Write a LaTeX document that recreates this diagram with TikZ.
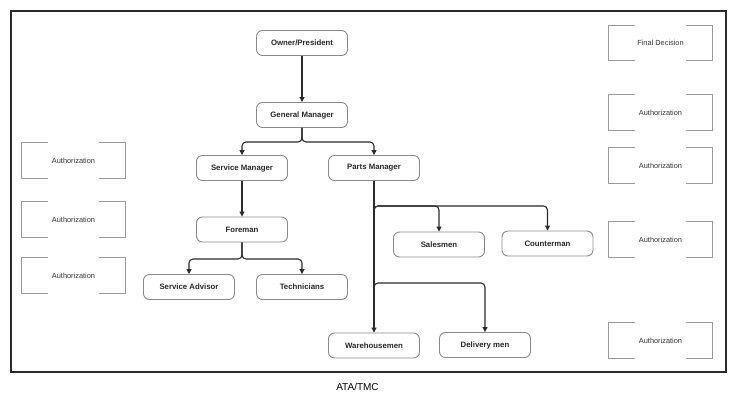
\documentclass[tikz,border=0pt]{standalone}
\usepackage{fontspec}
\setmainfont{Liberation Sans}
\usetikzlibrary{arrows.meta}
\definecolor{boxgray}{HTML}{8A8A8A}
\definecolor{linedark}{HTML}{2A2A2A}
\definecolor{brkgray}{HTML}{9A9A9A}
\tikzset{
  orgbox/.style={draw=boxgray, line width=0.9pt, rounded corners=6pt, minimum width=91pt, minimum height=25pt, inner sep=0pt, font=\fontsize{7.8}{9}\selectfont\bfseries, text=black!85},
  conn/.style={draw=linedark, line width=1.1pt, rounded corners=4pt, -{Triangle[width=5pt,length=5pt]}},
  brk/.style={minimum width=103pt, minimum height=35pt, inner sep=0pt, font=\fontsize{7.4}{9}\selectfont, text=black!80},
  brkline/.style={draw=brkgray, line width=0.8pt},
}
\newcommand{\bracketbox}[4]{%
  \node[brk] (#1) at (#2,#3) {#4};
  \draw[brkline] ([xshift=26pt]#1.north west) -- (#1.north west) -- (#1.south west) -- ([xshift=26pt]#1.south west);
  \draw[brkline] ([xshift=-26pt]#1.north east) -- (#1.north east) -- (#1.south east) -- ([xshift=-26pt]#1.south east);
}
\begin{document}
\begin{tikzpicture}[x=1pt,y=-1pt]
\useasboundingbox (0,0) rectangle (737,400);
\draw[draw=linedark, line width=1.1pt] (11,11) rectangle (726,372);
\node[font=\fontsize{10}{12}\selectfont] (src) at (357.5,386.5) {ATA/TMC};

\node[orgbox] (own) at (302,43) {Owner/President};
\node[orgbox] (gm) at (302,115) {General Manager};
\node[orgbox] (sm) at (242,168) {Service Manager};
\node[orgbox] (pm) at (374,168) {Parts Manager};
\node[orgbox] (fm) at (242,229.5) {Foreman};
\node[orgbox] (sa) at (189,287) {Service Advisor};
\node[orgbox] (tec) at (302,287) {Technicians};
\node[orgbox] (sal) at (439,244.5) {Salesmen};
\node[orgbox] (cnt) at (547.5,243.5) {Counterman};
\node[orgbox] (wh) at (374,345.5) {Warehousemen};
\node[orgbox] (del) at (485,345) {Delivery men};

\coordinate (gmb) at (302,142);
\coordinate (fmb) at (242,259);
\coordinate (pb1) at (374,206);
\coordinate (pb2) at (374,283);

\draw[conn] (own) -- (gm);
\draw[conn] (gm.south) -- (gmb) -| (sm.north);
\draw[conn] (gm.south) -- (gmb) -| (pm.north);
\draw[conn] (sm) -- (fm);
\draw[conn] (fm.south) -- (fmb) -| (sa.north);
\draw[conn] (fm.south) -- (fmb) -| (tec.north);
\draw[conn] (pm.south) -- (wh.north);
\draw[conn] ([yshift=-8pt]pb1) -- (pb1) -| (sal.north);
\draw[conn] ([yshift=-8pt]pb1) -- (pb1) -| (cnt.north);
\draw[conn] ([yshift=-8pt]pb2) -- (pb2) -| (del.north);

\bracketbox{la}{73.5}{160.5}{Authorization}
\bracketbox{lb}{73.5}{219.5}{Authorization}
\bracketbox{lc}{73.5}{275.5}{Authorization}
\bracketbox{ra}{660.5}{43}{Final Decision}
\bracketbox{rb}{660.5}{112.5}{Authorization}
\bracketbox{rc}{660.5}{165.5}{Authorization}
\bracketbox{rd}{660.5}{239.5}{Authorization}
\bracketbox{re}{660.5}{340.5}{Authorization}
\end{tikzpicture}
\end{document}
